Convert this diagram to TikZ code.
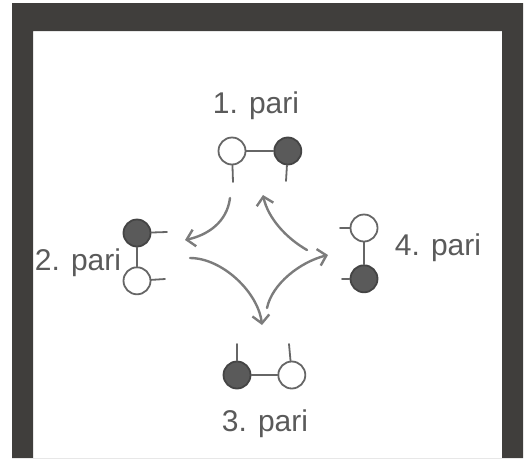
\documentclass[tikz,border=0pt]{standalone}
\usepackage{fontspec}
\setmainfont{Liberation Sans}
\usetikzlibrary{positioning,arrows.meta}
\definecolor{framegray}{HTML}{403E3C}
\definecolor{dotline}{HTML}{666666}
\definecolor{dotfill}{HTML}{5A5A5A}
\definecolor{dotedge}{HTML}{444444}
\definecolor{arrowgray}{HTML}{7C7C7C}
\definecolor{inkgray}{HTML}{5A5A5A}
\tikzset{
  pair dot/.style={circle, draw=dotline, line width=1.8pt, inner sep=0pt, minimum size=27pt},
  open dot/.style={pair dot, fill=white},
  full dot/.style={pair dot, fill=dotfill, draw=dotedge},
  pair link/.style={draw=dotline, line width=1.8pt, line cap=round},
  pair label/.style={text=inkgray, inner sep=0pt, font=\fontsize{30}{32}\selectfont},
  swap arrow/.style={draw=arrowgray, line width=2.4pt, line cap=round, -{Straight Barb[length=8pt,width=17pt]}},
}

\begin{document}
\begin{tikzpicture}[x=1pt,y=-1pt]
\useasboundingbox (0,0) rectangle (526,458);
% the frame
\fill[framegray,even odd rule] (12,3) rectangle (523,458) (33,31) rectangle (502,458);
% the nodes
\node [open dot] (a1) at (232,151) {};
\node [full dot,right=27pt of a1] (b1) {};
\node [full dot] (b2) at (137,233) {};
\node [open dot,below=19pt of b2] (a2) {};
\node [full dot] (b3) at (237,375) {};
\node [open dot,right=26pt of b3] (a3) {};
\node [open dot] (a4) at (364,228) {};
\node [full dot,below=22pt of a4] (b4) {};
% the labels
\node [pair label] (l1) at (256,106) {1. pari};
\node [pair label] (l2) at (78,263) {2. pari};
\node [pair label] (l3) at (265,424) {3. pari};
\node [pair label] (l4) at (438,248) {4. pari};
% stem ends
\coordinate (a1s) at (233,182);
\coordinate (b1s) at (286,181);
\coordinate (b2s) at (167,232);
\coordinate (a2s) at (165,279);
\coordinate (b3s) at (237,344);
\coordinate (a3s) at (289,344);
\coordinate (a4s) at (340,228);
\coordinate (b4s) at (342,279);
% arrow ends
\coordinate (s12) at (230,198);
\coordinate (e12) at (185,240);
\coordinate (s23) at (190,258);
\coordinate (e23) at (262,325);
\coordinate (s34) at (267,308);
\coordinate (e34) at (328,255);
\coordinate (s41) at (307,250);
\coordinate (e41) at (263,195);
%drawings of links
\draw[pair link] (a1) -- (b1);
\draw[pair link] (b2) -- (a2);
\draw[pair link] (b3) -- (a3);
\draw[pair link] (a4) -- (b4);
\draw[pair link] (a1) -- (a1s);
\draw[pair link] (b1) -- (b1s);
\draw[pair link] (b2) -- (b2s);
\draw[pair link] (a2) -- (a2s);
\draw[pair link] (b3) -- (b3s);
\draw[pair link] (a3) -- (a3s);
\draw[pair link] (a4) -- (a4s);
\draw[pair link] (b4) -- (b4s);
%drawings of arrows
\draw[swap arrow] (s12) .. controls (227,222) and (208,235) .. (e12);
\draw[swap arrow] (s23) .. controls (222,258) and (258,292) .. (e23);
\draw[swap arrow] (s34) .. controls (272,284) and (300,262) .. (e34);
\draw[swap arrow] (s41) .. controls (286,238) and (268,218) .. (e41);
\end{tikzpicture}
\end{document}
